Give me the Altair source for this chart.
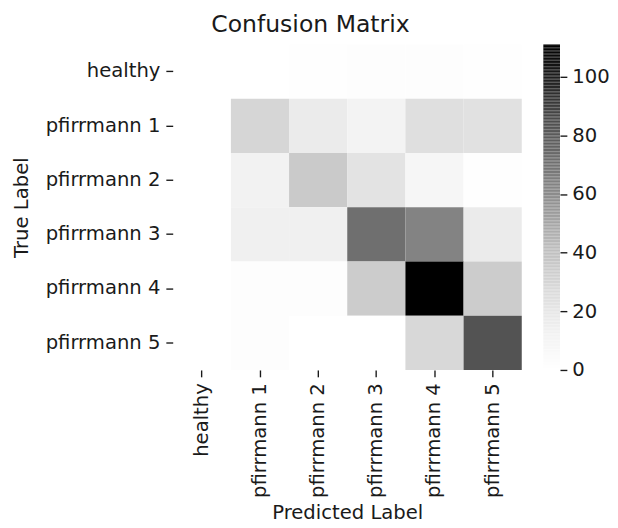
import altair as alt
import pandas as pd

labels = ["healthy", "pfirrmann 1", "pfirrmann 2", "pfirrmann 3", "pfirrmann 4", "pfirrmann 5"]
row_healthy = [0, 0, 1, 2, 2, 1]
row_p1 = [0, 29, 17, 11, 24, 23]
row_p2 = [0, 12, 35, 22, 8, 1]
row_p3 = [0, 14, 14, 71, 63, 17]
row_p4 = [0, 2, 2, 34, 111, 34]
row_p5 = [0, 2, 0, 0, 28, 83]
matrix = [row_healthy, row_p1, row_p2, row_p3, row_p4, row_p5]
cbar_ticks = [0, 20, 40, 60, 80, 100]

vmax = max(max(r) for r in matrix)
greys = ["#ffffff", "#f0f0f0", "#d9d9d9", "#bdbdbd", "#969696",
         "#737373", "#525252", "#252525", "#000000"]
stops = [vmax * i / 8 for i in range(9)]
color_scale = alt.Scale(domain=stops, range=greys, interpolate="rgb")

rows = []
for i, t in enumerate(labels):
    for j, p in enumerate(labels):
        rows.append({"True": t, "Predicted": p, "count": matrix[i][j]})
df = pd.DataFrame(rows)

FONT = "DejaVu Sans"
TXT = "#1a1a1a"
FS = 20

heat = alt.Chart(df).mark_rect().encode(
    x=alt.X("Predicted:N", sort=labels, title="Predicted Label",
            axis=alt.Axis(labelAngle=270, domain=False, ticks=True, tickSize=7,
                          tickWidth=1.4, tickColor=TXT, labelPadding=6, titlePadding=5,
                          labelFontSize=FS, titleFontSize=FS, labelColor=TXT,
                          titleColor=TXT, titleFontWeight="normal")),
    y=alt.Y("True:N", sort=labels, title="True Label",
            axis=alt.Axis(domain=False, ticks=True, tickSize=7, tickWidth=1.4,
                          tickColor=TXT, labelPadding=6, titlePadding=14,
                          labelFontSize=FS, titleFontSize=FS, labelColor=TXT,
                          titleColor=TXT, titleFontWeight="normal")),
    color=alt.Color("count:Q", scale=color_scale, legend=None),
).properties(width=356, height=332)

# colorbar sampled from the same colour scale
cb_vals = [v * 0.5 for v in range(int(vmax * 2))]
cb = pd.DataFrame({"v": cb_vals, "v2": [v + 0.5 for v in cb_vals]})
cbar = alt.Chart(cb).mark_rect().encode(
    y=alt.Y("v:Q", scale=alt.Scale(domain=[0, vmax], nice=False, zero=True),
            axis=alt.Axis(orient="right", values=cbar_ticks, domain=False, grid=False,
                          tickSize=7, tickWidth=1.4, tickColor=TXT, labelPadding=5,
                          labelFontSize=FS, labelColor=TXT, title=None)),
    y2="v2:Q",
    color=alt.Color("v:Q", scale=color_scale, legend=None),
).properties(width=17, height=332)

chart = alt.hconcat(heat, cbar, spacing=22).properties(
    title=alt.TitleParams("Confusion Matrix", fontSize=24, fontWeight="normal",
                          color=TXT, anchor="middle", offset=8),
    padding={"left": 3, "top": 0, "right": 0, "bottom": 0},
).configure(font=FONT).configure_view(stroke=None)

chart.save("out.html", embed_options={"renderer": "svg", "actions": False})
